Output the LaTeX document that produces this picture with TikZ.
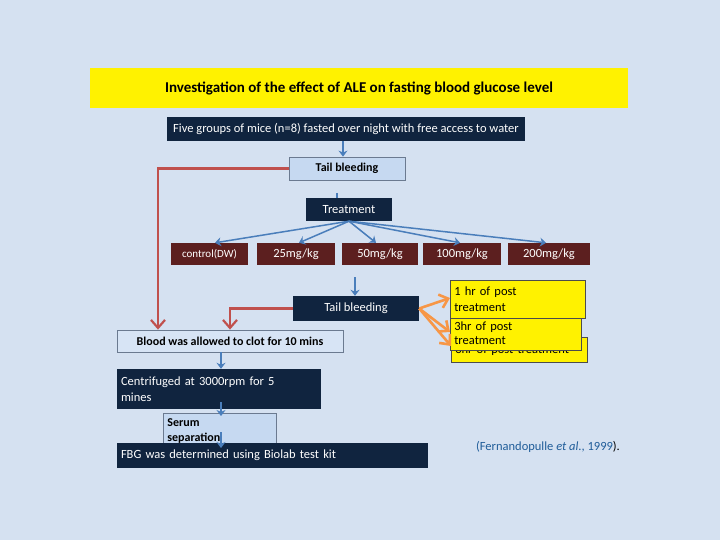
\documentclass[tikz,border=0pt]{standalone}
\usepackage{fontspec}
\setmainfont{Carlito}
\begin{document}
\begin{tikzpicture}[x=1pt,y=-1pt,
 dark/.style={fill=navy,draw=none,text=white,font=\fontsize{12.5}{15}\selectfont,inner sep=0pt},
 light/.style={fill=lightb,draw=grayb,line width=0.8pt,font=\bfseries\fontsize{12}{14}\selectfont,inner sep=0pt},
 dose/.style={fill=maroon,draw=none,text=white,font=\fontsize{12.5}{15}\selectfont,inner sep=0pt},
 yel/.style={fill=yellow,draw=black!70,line width=0.6pt,font=\fontsize{12.5}{15}\selectfont,inner sep=0pt},
 barr/.style={draw=arrb,line width=1.5pt,-{Stealth[length=6pt,width=9pt]}},
 rarr/.style={draw=redl,line width=2.2pt,-{Straight Barb[length=8pt,width=14pt]}},
 oarr/.style={draw=orng,line width=2.6pt,-{Straight Barb[length=8pt,width=14pt]}}]
\definecolor{bg}{HTML}{D5E1F1}
\definecolor{navy}{HTML}{10243F}
\definecolor{lightb}{HTML}{C6D9F1}
\definecolor{grayb}{HTML}{6B7A90}
\definecolor{maroon}{HTML}{5C1F1F}
\definecolor{arrb}{HTML}{4A7EBB}
\definecolor{redl}{HTML}{C0504D}
\definecolor{orng}{HTML}{F79646}
\definecolor{citeb}{HTML}{1F5C99}
\usetikzlibrary{arrows.meta}
\fill[bg] (0,0) rectangle (720,540);
\useasboundingbox (0,0) rectangle (720,540);
\node[fill=yellow,minimum width=538,minimum height=40,inner sep=0pt,font=\bfseries\fontsize{15}{18}\selectfont] (title) at (359,88) {Investigation of the effect of ALE on fasting blood glucose level};
\node[dark,minimum width=358,minimum height=24] (five) at (346,129) {Five groups of mice (n=8) fasted over night with free access to water};
\node[light,minimum width=116,minimum height=23] (tb1) at (347,168.5) {Tail bleeding};
\node[dark,minimum width=86,minimum height=23] (treat) at (349,209.5) {Treatment};
\node[dose,minimum width=77,minimum height=22,font=\fontsize{11}{13}\selectfont] (d0) at (209.5,254) {control(DW)};
\node[dose,minimum width=78,minimum height=22] (d1) at (296,254) {25mg/kg};
\node[dose,minimum width=76,minimum height=22] (d2) at (380,254) {50mg/kg};
\node[dose,minimum width=78,minimum height=22] (d3) at (462,254) {100mg/kg};
\node[dose,minimum width=82,minimum height=22] (d4) at (549,254) {200mg/kg};
\node[dark,minimum width=126,minimum height=25] (tb2) at (356,308.5) {Tail bleeding};
\node[light,minimum width=226,minimum height=22,fill=lightb!70!white] (clot) at (230,341) {Blood was allowed to clot for 10 mins};
\node[dark,minimum width=204,minimum height=40,text width=196,align=left,font=\fontsize{12.5}{16}\selectfont] (cent) at (219,389) {Centrifuged at 3000rpm for 5\\mines};
\node[light,minimum width=113,minimum height=32,anchor=north west,text width=105,align=left,font=\bfseries\fontsize{12}{15}\selectfont] (serum) at (163,413) {\rule{0pt}{11pt}Serum\\separation};
\node[dark,minimum width=311,minimum height=25,text width=303,align=left] (fbg) at (272.5,455.5) {FBG was determined using Biolab test kit};
\node[yel,minimum width=136,minimum height=25,anchor=north west,text width=128,align=left] (y3) at (451,337) {\raisebox{-6pt}{3hr of post treatment}};
\node[yel,minimum width=131,minimum height=34,anchor=north west,text width=123,align=left,font=\fontsize{12.5}{14}\selectfont] (y2) at (450,316) {3hr of post\\treatment};
\node[yel,minimum width=135,minimum height=38,anchor=north west,text width=127,align=left,font=\fontsize{12.5}{16}\selectfont] (y1) at (450,280) {1 hr of post\\treatment};
\node[font=\fontsize{12.5}{15}\selectfont,text=citeb] (cite) at (548,447) {(Fernandopulle \textit{et al}., 1999\textcolor{black}{).}};
\draw[barr] (five.south -| 343,0) -- (tb1.north -| 343,0);
\draw[draw=arrb,line width=1.5pt] (337,193) -- (treat.north -| 337,0);
\foreach \d/\x in {d0/215,d1/299,d2/376,d3/460,d4/546}
  \draw[barr] (treat.south) -- (\d.north -| \x,0);
\draw[rarr] (tb1.west) -- (158,168.5) -- (clot.north -| 158,0);
\draw[rarr] (tb2.west) -- (230,308.5) -- (clot.north -| 230,0);
\draw[barr] (355,277) -- (tb2.north -| 355,0);
\draw[barr] (clot.south -| 221,0) -- (cent.north -| 221,0);
\draw[barr] (221,402) -- (221,416);
\draw[barr] (221,432) -- (221,448);
\draw[oarr] (tb2.east) -- (y1.west |- 0,298);
\draw[oarr] (tb2.east) -- (y2.west |- 0,332);
\draw[oarr] (tb2.east) -- (y3.west |- 0,346);
\end{tikzpicture}
\end{document}
